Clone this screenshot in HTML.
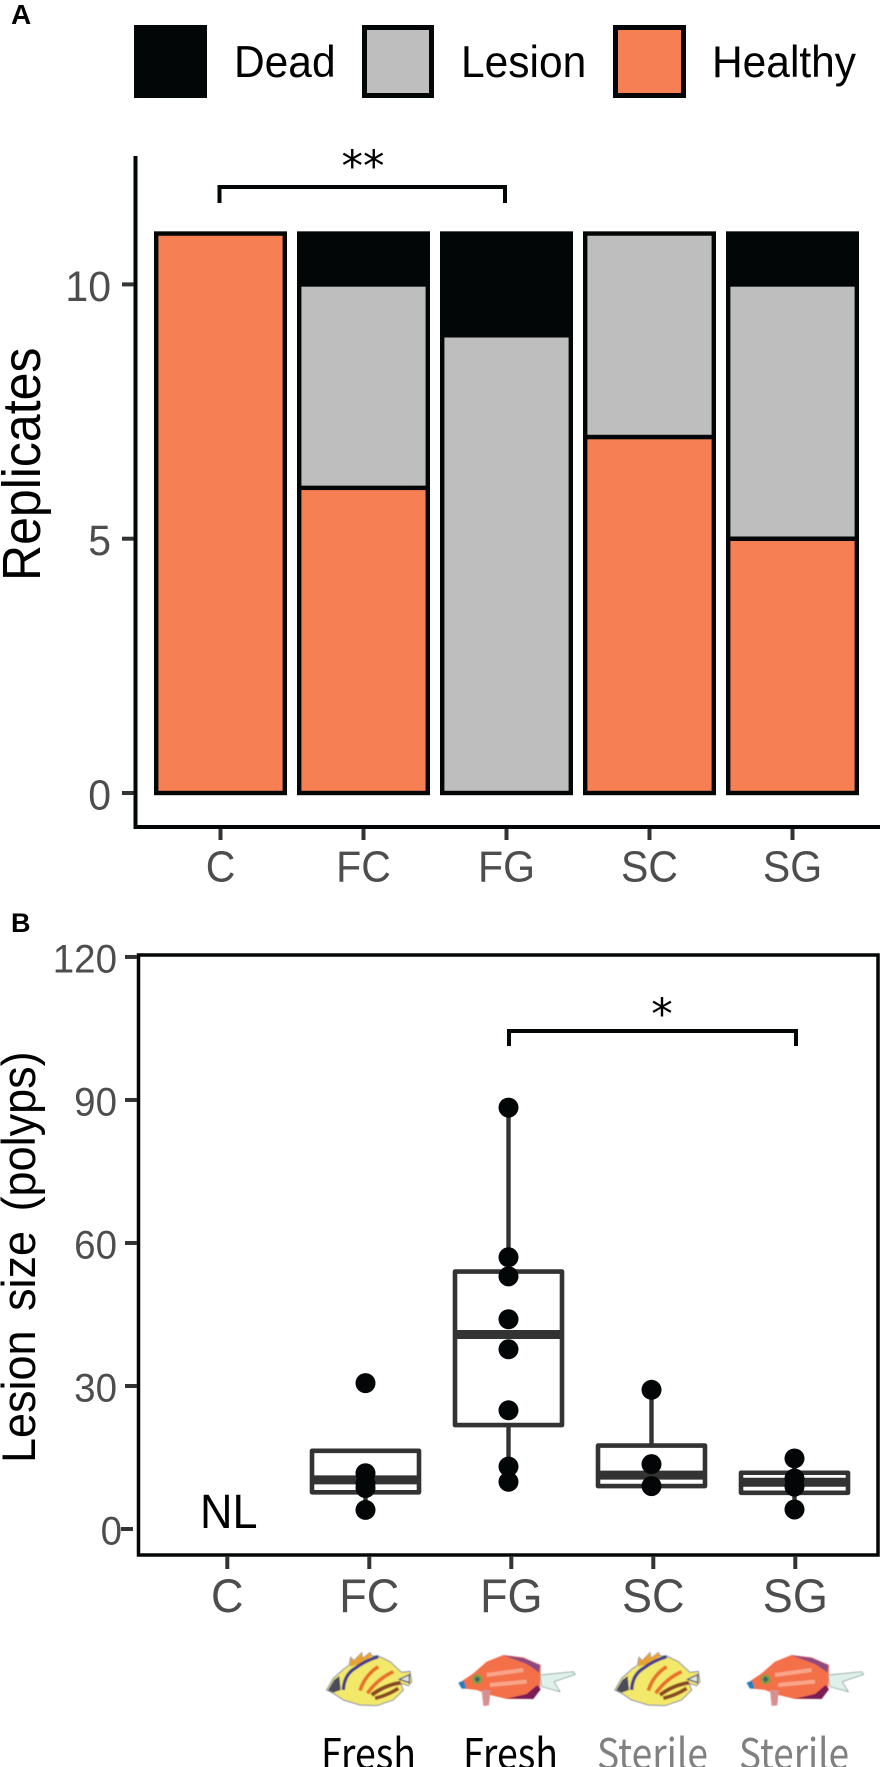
<!DOCTYPE html>
<html>
<head>
<meta charset="utf-8">
<title>Replicates and lesion size</title>
<style>
html,body{margin:0;padding:0;background:#fff;}
svg{display:block;font-family:"Liberation Sans",Arial,sans-serif;}
</style>
</head>
<body>
<svg id="figure" xmlns="http://www.w3.org/2000/svg" width="880" height="1767" viewBox="0 0 880 1767">
  <rect x="0" y="0" width="880" height="1767" fill="#fff"/>
  <text x="11" y="24" font-size="28" font-weight="bold" fill="#000">A</text>
  <text x="11" y="932" font-size="27" font-weight="bold" fill="#000">B</text>

  <g>
    <rect x="136.5" y="27.5" width="68" height="68" fill="#030607" stroke="#030607" stroke-width="5"/>
    <text transform="translate(234 77) scale(1 1.04)" font-size="42.5" fill="#000">Dead</text>
    <rect x="364.5" y="27.5" width="67" height="68" fill="#bebebe" stroke="#030607" stroke-width="5"/>
    <text transform="translate(461 77) scale(1 1.04)" font-size="42.5" fill="#000">Lesion</text>
    <rect x="615.5" y="27.5" width="68" height="68" fill="#f67f54" stroke="#030607" stroke-width="5"/>
    <text transform="translate(712 77) scale(1 1.04)" font-size="42.5" fill="#000">Healthy</text>
  </g>

  <g id="panel-a"></g>
  <g id="panel-b"></g>

  <defs>
    <filter id="soft" x="-10%" y="-10%" width="120%" height="120%"><feGaussianBlur stdDeviation="1.6"/></filter>
    <g id="yellow-fish" filter="url(#soft)">
      <path d="M50 150 L70 115 L100 88 L118 75 L122 52 L132 62 L155 38 L158 55 L180 38 L186 48 L205 48 L240 65 L275 97 L300 94 L305 125 L295 137 L272 130 L280 150 L250 180 L200 197 L150 195 L100 180 L70 160 Z" fill="#f2e96a" stroke="#8b8ba0" stroke-width="3"/>
      <path d="M122 52 L132 62 L155 38 L158 55 L180 38 L186 48 L150 72 L120 80 Z" fill="#e8a32e"/>
      <path d="M54 150 L72 120 L88 108 L92 150 L70 158 Z" fill="#4c4c60"/>
      <path d="M100 150 Q102 105 135 85 Q165 62 205 50" fill="none" stroke="#4a3f8a" stroke-width="10"/>
      <path d="M150 152 Q165 105 205 80" fill="none" stroke="#e8702a" stroke-width="11"/>
      <path d="M172 160 Q205 115 250 95" fill="none" stroke="#e8702a" stroke-width="11"/>
      <path d="M185 165 Q225 135 272 128" fill="none" stroke="#8a4a22" stroke-width="12"/>
      <path d="M195 175 Q235 165 265 145" fill="none" stroke="#8a4a22" stroke-width="11"/>
      <path d="M268 118 L298 104 L298 128 Z" fill="#dfe6d8" stroke="#55558a" stroke-width="4"/>
    </g>
    <g id="red-fish" filter="url(#soft)">
      <path d="M690 105 L790 95 L796 103 L732 125 L750 155 L695 140 Z" fill="#dff0ea" stroke="#6f8a84" stroke-width="2"/>
      <path d="M445 130 L490 100 L530 65 L580 45 L640 52 L692 75 L690 150 L670 177 L590 177 L540 165 L500 150 L455 145 Z" fill="#f4704a"/>
      <path d="M580 46 L640 54 L690 75 L688 98 L650 72 Z" fill="#8d4a80"/>
      <path d="M590 176 L670 177 L692 148 L682 135 L650 162 Z" fill="#7a1f55"/>
      <path d="M530 105 L640 90 M540 135 L650 125" stroke="#f9a58a" stroke-width="12" fill="none"/>
      <path d="M445 128 L462 122 L468 146 L455 146 Z" fill="#1f7fc0"/>
      <circle cx="502" cy="118" r="15" fill="#7f9c3c"/>
      <circle cx="502" cy="118" r="7" fill="#3f5f70"/>
      <path d="M515 150 L542 150 L537 196 L520 198 Z" fill="#d88f8f"/>
    </g>
  </defs>

  <g>
    <use href="#yellow-fish" transform="translate(310 1640) scale(.33333)"/>
    <use href="#red-fish" transform="translate(310 1640) scale(.33333)"/>
    <use href="#yellow-fish" transform="translate(598.3 1640) scale(.33333)"/>
    <use href="#red-fish" transform="translate(598.3 1640) scale(.33333)"/>
  </g>

  <g style="font-family:'Noto Sans CJK JP','Liberation Sans',sans-serif" font-size="42">
    <text x="321" y="1769" textLength="95" lengthAdjust="spacingAndGlyphs" fill="#000">Fresh</text>
    <text x="463" y="1769" textLength="95" lengthAdjust="spacingAndGlyphs" fill="#000">Fresh</text>
    <text x="597" y="1769" textLength="111" lengthAdjust="spacingAndGlyphs" fill="#808080">Sterile</text>
    <text x="739" y="1769" textLength="110" lengthAdjust="spacingAndGlyphs" fill="#808080">Sterile</text>
  </g>
</svg>

<script>
/* Panel A data */
var aCategories = ['C', 'FC', 'FG', 'SC', 'SG'];
var aHealthy = [11, 6, 0, 7, 5];
var aLesion = [0, 4, 9, 4, 5];
var aDead = [0, 1, 2, 0, 1];
var aTicks = [0, 5, 10];

/* Panel B data */
var bCategories = ['C', 'FC', 'FG', 'SC', 'SG'];
var bQ1 = [null, 7.7, 21.8, 9, 7.6];
var bMedian = [null, 10.3, 40.8, 11.3, 9.8];
var bQ3 = [null, 16.4, 54, 17.5, 11.8];
var bWhiskerLow = [null, 4, 9.9, 9, 4.1];
var bWhiskerHigh = [null, 16.4, 88.4, 29.2, 14.8];
var bPoints = [
  [],
  [30.6, 11.7, 9.6, 8.6, 4],
  [88.4, 57, 53, 44, 37.7, 24.9, 13.1, 9.9],
  [29.2, 13.6, 9],
  [14.8, 10.6, 8.9, 4.1]
];
var bTicks = [0, 30, 60, 90, 120];

var NS = 'http://www.w3.org/2000/svg';
function mk(parent, tag, attrs, txt) {
  var e = document.createElementNS(NS, tag);
  for (var k in attrs) e.setAttribute(k, attrs[k]);
  if (txt !== undefined) e.textContent = txt;
  parent.appendChild(e);
  return e;
}

/* axis functions */
function xA(i) { return 220.5 + i * 143; }
function yA(v) { return 793 - v * 50.86; }
function xB(i) { return 222.5 + i * 143; }
function xBTick(i) { return 227.3 + i * 142; }
function yB(v) { return 1529 - v * 4.767; }

var INK = '#030607';
var pa = document.getElementById('panel-a');
var pb = document.getElementById('panel-b');
var el;

/* ---------- Panel A ---------- */
aCategories.forEach(function (cat, i) {
  var stack = [
    { name: 'healthy', v: aHealthy[i], fill: '#f67f54' },
    { name: 'lesion', v: aLesion[i], fill: '#bebebe' },
    { name: 'dead', v: aDead[i], fill: INK }
  ];
  var base = 0;
  stack.forEach(function (s) {
    if (s.v > 0) {
      el = mk(pa, 'rect', { x: xA(i) - 64.3, y: yA(base + s.v), width: 128.6, height: yA(base) - yA(base + s.v), fill: s.fill, stroke: INK, 'stroke-width': 4.4 });
      
      
    }
    base += s.v;
  });
  el = mk(pa, 'line', { x1: xA(i), x2: xA(i), y1: 829, y2: 840, stroke: '#333', 'stroke-width': 4 });
  
  
  el = mk(pa, 'text', { transform: 'translate(' + xA(i) + ' 881.5) scale(1 1.06)', 'font-size': 41, 'text-anchor': 'middle', fill: '#4d4d4d' }, cat);
  
  
});
aTicks.forEach(function (t) {
  el = mk(pa, 'line', { x1: 122, x2: 134, y1: yA(t), y2: yA(t), stroke: '#333', 'stroke-width': 4 });
  
  
  el = mk(pa, 'text', { transform: 'translate(111 ' + (yA(t) + 16.5) + ') scale(1 1.05)', 'font-size': 41, 'text-anchor': 'end', fill: '#4d4d4d' }, String(t));
  
  
});
el = mk(pa, 'path', { d: 'M135.5 156 V827 H880', fill: 'none', stroke: INK, 'stroke-width': 4 });


el = mk(pa, 'text', { transform: 'translate(40 581) rotate(-90) scale(1 1.07)', 'font-size': 50, fill: '#000' }, 'Replicates');


el = mk(pa, 'path', { d: 'M219.5 203 V187 H505 V203', fill: 'none', stroke: INK, 'stroke-width': 4 });


el = mk(pa, 'text', { x: 363, y: 181, 'font-size': 43, 'text-anchor': 'middle', fill: '#000', style: 'font-family:"DejaVu Sans",sans-serif' }, '**');



/* ---------- Panel B ---------- */
el = mk(pb, 'rect', { x: 138.5, y: 955, width: 739.5, height: 600, fill: 'none', stroke: INK, 'stroke-width': 3.5 });


bTicks.forEach(function (t) {
  var shift = t === 0 ? 4 : 0;
  el = mk(pb, 'line', { x1: 125 - shift, x2: 137 - shift, y1: yB(t), y2: yB(t), stroke: '#333', 'stroke-width': 4 });
  
  
  el = mk(pb, 'text', { transform: 'translate(' + (t === 0 ? 122 : 117) + ' ' + (yB(t) + 15.5) + ') scale(1 1.03)', 'font-size': 38.5, 'text-anchor': 'end', fill: '#4d4d4d' }, String(t));
  
  
});
bCategories.forEach(function (cat, i) {
  el = mk(pb, 'line', { x1: xBTick(i), x2: xBTick(i), y1: 1556, y2: 1569, stroke: '#333', 'stroke-width': 4 });
  
  
  el = mk(pb, 'text', { transform: 'translate(' + xBTick(i) + ' 1612) scale(1 1.06)', 'font-size': 45, 'text-anchor': 'middle', fill: '#4d4d4d' }, cat);
  
  
  if (bMedian[i] === null) return;
  var cx = xB(i);
  el = mk(pb, 'line', { x1: cx, x2: cx, y1: yB(bWhiskerHigh[i]), y2: yB(bWhiskerLow[i]), stroke: '#333', 'stroke-width': 4.4 });
  
  
  el = mk(pb, 'rect', { x: cx - 53.5, y: yB(bQ3[i]), width: 107, height: yB(bQ1[i]) - yB(bQ3[i]), fill: '#fff', stroke: '#333', 'stroke-width': 4.6, 'stroke-linejoin': 'round' });
  
  
  el = mk(pb, 'line', { x1: cx - 53.5, x2: cx + 53.5, y1: yB(bMedian[i]), y2: yB(bMedian[i]), stroke: '#333', 'stroke-width': 9 });
  
  
  bPoints[i].forEach(function (p) {
    el = mk(pb, 'circle', { cx: cx, cy: yB(p), r: 10, fill: INK });
    
    
  });
});
el = mk(pb, 'text', { transform: 'translate(200 1528) scale(1 1.08)', 'font-size': 45, fill: '#000' }, 'NL');


el = mk(pb, 'text', { transform: 'translate(35 1463) rotate(-90) scale(1 1.05)', 'font-size': 45, 'word-spacing': 7, fill: '#000' }, 'Lesion size (polyps)');


el = mk(pb, 'path', { d: 'M509 1046 V1031 H796 V1046', fill: 'none', stroke: INK, 'stroke-width': 4 });


el = mk(pb, 'text', { x: 662, y: 1029, 'font-size': 43, 'text-anchor': 'middle', fill: '#000', style: 'font-family:"DejaVu Sans",sans-serif' }, '*');


</script>
</body>
</html>
